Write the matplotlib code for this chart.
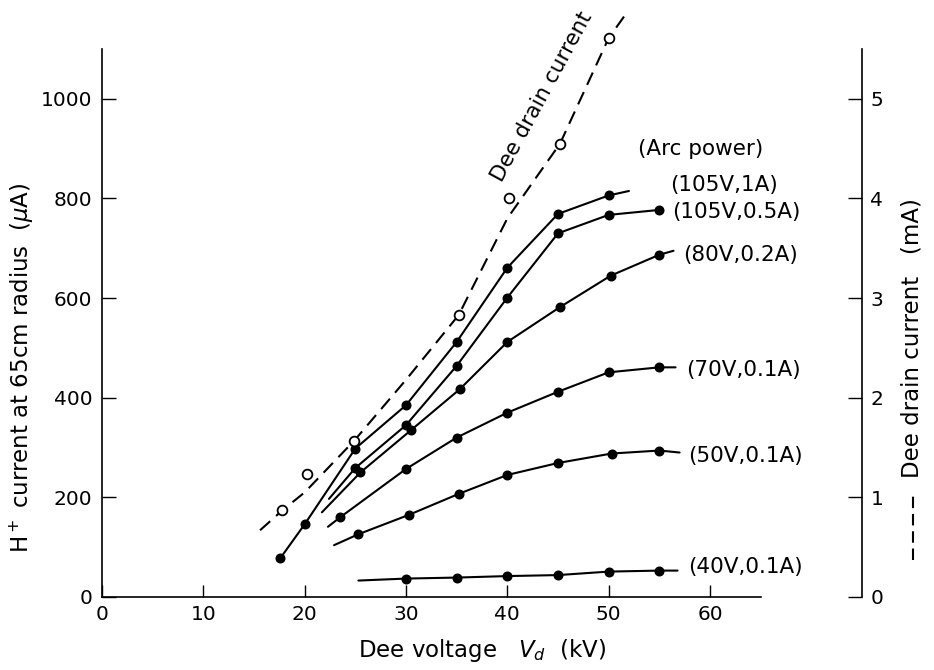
import matplotlib
matplotlib.use("Agg")
import matplotlib.pyplot as plt
from matplotlib.lines import Line2D

plt.rcParams['font.family'] = ['DejaVu Sans']
plt.rcParams['mathtext.fontset'] = 'dejavusans'

# H+ current (uA) vs dee voltage (kV), one curve per arc power
# *_x/*_y = measured points, *_start/*_end = where the drawn curve begins/ends
s1_label = "(105V,1A)"
s1_x = [17.6, 20.0, 25.0, 30.0, 35.0, 40.0, 45.0, 50.0]
s1_y = [78, 146, 298, 385, 512, 661, 769, 806]
s1_start = None
s1_end = (52.0, 815)

s2_label = "(105V,0.5A)"
s2_x = [25.0, 30.0, 35.0, 40.0, 45.0, 50.0, 55.0]
s2_y = [259, 345, 464, 601, 730, 767, 777]
s2_start = (22.4, 197)
s2_end = None

s3_label = "(80V,0.2A)"
s3_x = [25.5, 30.5, 35.3, 40.0, 45.2, 50.2, 55.0]
s3_y = [250, 335, 417, 512, 582, 645, 687]
s3_start = (21.7, 170)
s3_end = (56.4, 695)

s4_label = "(70V,0.1A)"
s4_x = [23.5, 30.0, 35.0, 40.0, 45.0, 50.0, 55.0]
s4_y = [160, 257, 320, 370, 412, 451, 461]
s4_start = (22.3, 141)
s4_end = (56.6, 461)

s5_label = "(50V,0.1A)"
s5_x = [25.3, 30.3, 35.2, 40.0, 45.0, 50.3, 55.0]
s5_y = [126, 165, 207, 245, 269, 288, 294]
s5_start = (22.9, 104)
s5_end = (57.0, 290)

s6_label = "(40V,0.1A)"
s6_x = [30.0, 35.0, 40.0, 45.0, 50.0, 55.0]
s6_y = [37, 39, 42, 44, 51, 53]
s6_start = (25.3, 33)
s6_end = (56.8, 53)

# dee drain current (mA), right axis
drain_x = [17.8, 20.2, 24.9, 35.2, 40.2, 45.2, 50.0]
drain_y = [0.87, 1.23, 1.57, 2.83, 4.0, 4.55, 5.61]
# hand-drawn dashed curve through them
drain_curve_x = [15.6, 17.8, 20.0, 24.9, 30.0, 35.2, 40.0, 45.2, 50.0, 51.9]
drain_curve_y = [0.67, 0.87, 1.05, 1.57, 2.18, 2.83, 3.8, 4.55, 5.61, 5.88]

label_pos = [(56.1, 827), (56.3, 773), (57.3, 686), (57.6, 455), (57.8, 284), (57.8, 61)]

fs_tick = 14.5
fs_lab = 15.5
fs_axis = 16.5

fig = plt.figure(figsize=(9.34, 6.70), dpi=100)
ax = fig.add_axes([102/934, 1-597/670, 760/934, 548/670])
ax.set_xlim(0, 75)
ax.set_ylim(0, 1100)

series = [(s1_x, s1_y, s1_start, s1_end, s1_label),
          (s2_x, s2_y, s2_start, s2_end, s2_label),
          (s3_x, s3_y, s3_start, s3_end, s3_label),
          (s4_x, s4_y, s4_start, s4_end, s4_label),
          (s5_x, s5_y, s5_start, s5_end, s5_label),
          (s6_x, s6_y, s6_start, s6_end, s6_label)]

for (xs, ys, st, en, lab), (tx, ty) in zip(series, label_pos):
    cx = list(xs)
    cy = list(ys)
    if st is not None:
        cx = [st[0]] + cx
        cy = [st[1]] + cy
    if en is not None:
        cx = cx + [en[0]]
        cy = cy + [en[1]]
    ax.plot(cx, cy, color='black', lw=1.5, solid_capstyle='round', zorder=3)
    ax.plot(xs, ys, 'o', color='black', ms=6.2, zorder=4)
    ax.text(tx, ty, lab, fontsize=fs_lab, ha='left', va='center')

ax.text(52.9, 899, "(Arc power)", fontsize=fs_lab, ha='left', va='center')

for s in ['top', 'right']:
    ax.spines[s].set_visible(False)
ax.spines['bottom'].set_bounds(0, 65)
for s in ['left', 'bottom']:
    ax.spines[s].set_linewidth(1.2)

ax.set_xticks([0, 10, 20, 30, 40, 50, 60])
ax.set_yticks([0, 200, 400, 600, 800, 1000])
ax.tick_params(axis='x', direction='in', length=9, width=1.0, labelsize=fs_tick, pad=6)
ax.tick_params(axis='y', direction='in', length=10, width=1.0, labelsize=fs_tick, pad=7)

ax2 = ax.twinx()
ax2.set_ylim(0, 5.5)
for s in ['top', 'left', 'bottom']:
    ax2.spines[s].set_visible(False)
ax2.spines['right'].set_linewidth(1.2)
ax2.set_yticks([0, 1, 2, 3, 4, 5])
ax2.tick_params(axis='y', direction='in', length=10, width=1.0, labelsize=fs_tick, pad=6)

ax2.plot(drain_curve_x, drain_curve_y, color='black', lw=1.5, ls=(0, (6.5, 3.8)),
         clip_on=False, zorder=3)
ax2.plot(drain_x, drain_y, 'o', ms=7, mfc='white', mec='black', mew=1.3,
         clip_on=False, zorder=5)
ax2.text(43.4, 5.02, "Dee drain current", fontsize=fs_lab, rotation=61.5,
         ha='center', va='center', rotation_mode='anchor')

# axis titles
fig.text(482/934, 1-651/670, r"Dee voltage   $V_d$  (kV)", fontsize=fs_axis,
         ha='center', va='center')
fig.text(22/934, 1-368/670, r"H$^+$ current at 65cm radius  ($\mu$A)", fontsize=fs_axis,
         rotation=90, ha='center', va='center')
fig.text(912/934, 1-338/670, "Dee drain current   (mA)", fontsize=fs_axis,
         rotation=90, ha='center', va='center')
fig.add_artist(Line2D([913/934, 913/934], [1-560/670, 1-493/670], color='black',
                      lw=1.5, ls=(0, (5.5, 2.8)), transform=fig.transFigure))

fig.savefig("out.png", dpi=100)
